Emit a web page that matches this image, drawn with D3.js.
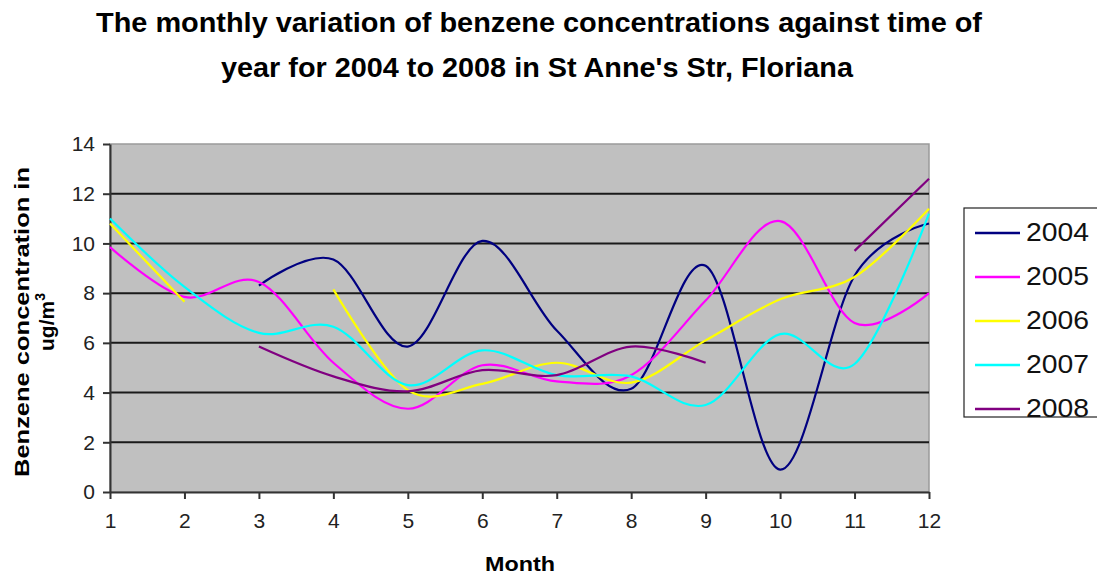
<!DOCTYPE html>
<html>
<head>
<meta charset="utf-8">
<script src="https://cdn.jsdelivr.net/npm/d3@7"></script>
<style>
    body { margin: 0; background: #fff; }
    text { font-family: Arial, "Liberation Sans", sans-serif; }
</style>
</head>
<body>
<div id="chart"></div>
<script>
'use strict';

// data (null = no reading that month)
let months = [1, 2, 3, 4, 5, 6, 7, 8, 9, 10, 11, 12];
let years = ['2004', '2005', '2006', '2007', '2008'];
let y2004 = [null, null, 8.3, 9.35, 5.85, 10.1, 6.5, 4.15, 9.1, 0.9, 8.7, 10.8];
let y2005 = [9.85, 7.85, 8.45, 5.2, 3.35, 5.1, 4.45, 4.7, 7.7, 10.9, 6.8, 8.0];
let y2006 = [10.8, 7.65, null, 8.15, 4.1, 4.35, 5.2, 4.4, 6.1, 7.75, 8.65, 11.4];
let y2007 = [11.0, 8.25, 6.4, 6.65, 4.3, 5.7, 4.7, 4.65, 3.5, 6.35, 5.15, 11.2];
let y2008 = [null, null, 5.85, 4.65, 4.05, 4.9, 4.7, 5.85, 5.2, null, 9.7, 12.6];
let yTicks = [0, 2, 4, 6, 8, 10, 12, 14];
let colors = ['#000080', '#ff00ff', '#ffff00', '#00ffff', '#800080'];

let seriesValues = [y2004, y2005, y2006, y2007, y2008];

let WIDTH = 1097,
    HEIGHT = 577,
    plot = {left: 110, right: 929, top: 144, bottom: 492};

let svg = d3.select('#chart').append('svg')
    .attr('width', WIDTH)
    .attr('height', HEIGHT);

// scales
let x = d3.scaleLinear().domain([1, 12]).range([plot.left, plot.right]);
let y = d3.scaleLinear().domain([0, 14]).range([plot.bottom, plot.top]);

// title
let title = svg.append('g').attr('font-weight', 'bold').attr('font-size', 27).attr('text-anchor', 'middle');
title.append('text').attr('x', 539).attr('y', 32)
    .attr('textLength', 886).attr('lengthAdjust', 'spacingAndGlyphs')
    .text('The monthly variation of benzene concentrations against time of');
title.append('text').attr('x', 537).attr('y', 77)
    .attr('textLength', 632).attr('lengthAdjust', 'spacingAndGlyphs')
    .text("year for 2004 to 2008 in St Anne's Str, Floriana");

// plot area
svg.append('rect')
    .attr('x', plot.left).attr('y', plot.top)
    .attr('width', plot.right - plot.left).attr('height', plot.bottom - plot.top)
    .attr('fill', '#c0c0c0')
    .attr('stroke', '#9a9a9a').attr('stroke-width', 1.5);

// gridlines
svg.append('g').selectAll('line')
    .data(yTicks.filter(d => d > 0 && d < 14))
    .join('line')
    .attr('x1', plot.left).attr('x2', plot.right)
    .attr('y1', d => y(d)).attr('y2', d => y(d))
    .attr('stroke', '#1a1a1a').attr('stroke-width', 2);

// axes
let yAxis = svg.append('g')
    .attr('transform', 'translate(' + plot.left + ',0)')
    .call(d3.axisLeft(y).tickValues(yTicks).tickSize(7).tickPadding(8).tickSizeOuter(0));
let xAxis = svg.append('g')
    .attr('transform', 'translate(0,' + plot.bottom + ')')
    .call(d3.axisBottom(x).tickValues(months).tickSize(7).tickPadding(14).tickSizeOuter(0));

[yAxis, xAxis].forEach(ax => {
    ax.attr('font-size', 21).attr('font-family', 'Arial, "Liberation Sans", sans-serif');
    ax.select('.domain').attr('stroke', '#333').attr('stroke-width', 2);
    ax.selectAll('.tick line').attr('stroke', '#333').attr('stroke-width', 2);
    ax.selectAll('.tick text').attr('fill', '#222');
});

// axis titles
svg.append('text')
    .attr('x', 520).attr('y', 571)
    .attr('text-anchor', 'middle')
    .attr('font-size', 21).attr('font-weight', 'bold')
    .attr('textLength', 70).attr('lengthAdjust', 'spacingAndGlyphs')
    .text('Month');

let yLabel = svg.append('g')
    .attr('transform', 'translate(29,322) rotate(-90)')
    .attr('text-anchor', 'middle')
    .attr('font-size', 21).attr('font-weight', 'bold');
yLabel.append('text').attr('x', 0).attr('y', 0)
    .attr('textLength', 310).attr('lengthAdjust', 'spacingAndGlyphs')
    .text('Benzene concentration in');
let unit = yLabel.append('text').attr('x', 0).attr('y', 25);
unit.append('tspan').text('ug/m');
unit.append('tspan').attr('font-size', 14).attr('dy', -9).text('3');

// smoothed lines, like the spreadsheet's smoothed line chart
let line = d3.line()
    .defined(d => d.v !== null)
    .x(d => x(d.m))
    .y(d => y(d.v))
    .curve(d3.curveCardinal.tension(0));

svg.append('g').selectAll('path')
    .data(seriesValues.map((vals, i) => ({
        year: years[i],
        color: colors[i],
        pts: months.map((m, j) => ({m: m, v: vals[j]}))
    })))
    .join('path')
    .attr('d', d => line(d.pts))
    .attr('fill', 'none')
    .attr('stroke', d => d.color)
    .attr('stroke-width', 2.2);

// legend
let legend = svg.append('g');
legend.append('rect')
    .attr('x', 964).attr('y', 208)
    .attr('width', 140).attr('height', 209)
    .attr('fill', '#fff').attr('stroke', '#222').attr('stroke-width', 1.2);

let items = legend.selectAll('g.item')
    .data(years)
    .join('g')
    .attr('class', 'item')
    .attr('transform', (d, i) => 'translate(0,' + (233 + i * 44) + ')');
items.append('line')
    .attr('x1', 975).attr('x2', 1020)
    .attr('stroke', (d, i) => colors[i]).attr('stroke-width', 2.5);
items.append('text')
    .attr('x', 1026).attr('y', 8)
    .attr('font-size', 25).attr('fill', '#111')
    .attr('textLength', 63).attr('lengthAdjust', 'spacingAndGlyphs')
    .text(d => d);
</script>
</body>
</html>
